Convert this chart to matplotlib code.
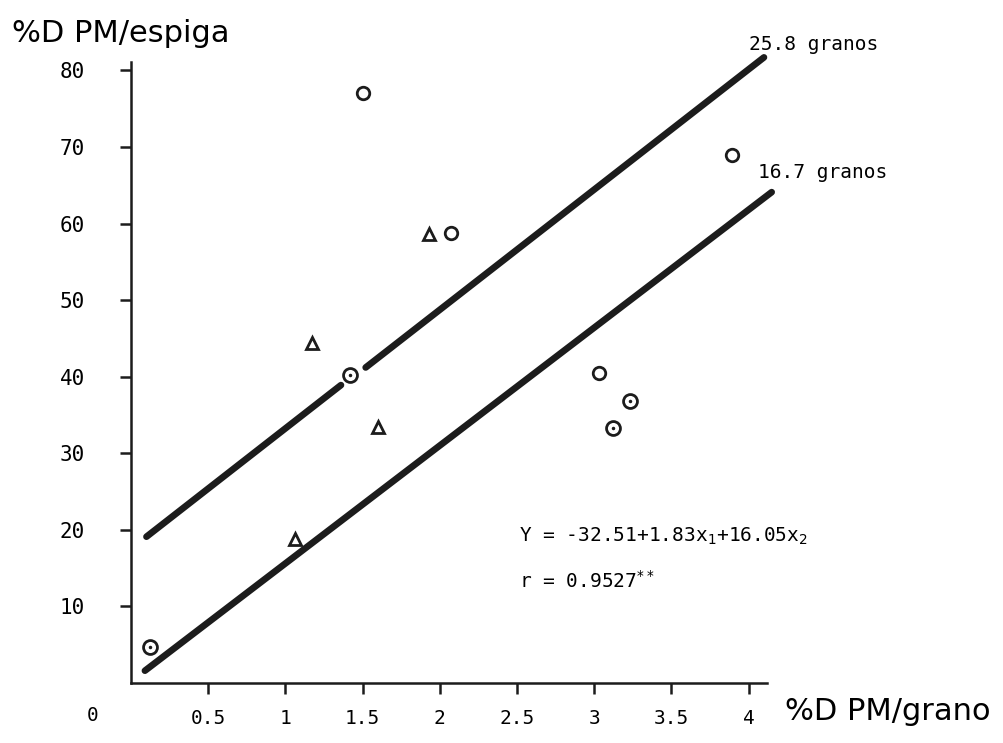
#% D PM/espiga frente a % D PM/grano

import matplotlib
matplotlib.use('Agg')
import matplotlib.pyplot as plt

# puntos
x_circulos = [1.50, 2.07, 3.89, 3.03]
y_circulos = [77.0, 58.7, 69.0, 40.5]

x_circ_punto = [0.12, 1.42, 3.23, 3.12]
y_circ_punto = [4.7, 40.2, 36.8, 33.3]

x_triangulos = [1.06, 1.17, 1.60, 1.93]
y_triangulos = [18.8, 44.4, 33.4, 58.6]

# rectas (extremos)
x_recta_258a = [0.10, 1.36]
y_recta_258a = [19.1, 38.9]
x_recta_258b = [1.52, 4.10]
y_recta_258b = [41.2, 81.7]
x_recta_167 = [0.09, 4.15]
y_recta_167 = [1.6, 64.1]

x_ticks = [0.5, 1, 1.5, 2, 2.5, 3, 3.5, 4]
x_etiquetas = ['0.5', '1', '1.5', '2', '2.5', '3', '3.5', '4']
y_ticks = [10, 20, 30, 40, 50, 60, 70, 80]
y_etiquetas = ['10', '20', '30', '40', '50', '60', '70', '80']

mono = 'DejaVu Sans Mono'
negro = '#1c1c1c'

fig = plt.figure(figsize=(10.04, 7.43), dpi=100)
ax = fig.add_axes([0.1305, 0.0808, 0.6335, 0.8358])

ax.plot(x_recta_258a, y_recta_258a, color=negro, lw=4.8, solid_capstyle='round', clip_on=False)
ax.plot(x_recta_258b, y_recta_258b, color=negro, lw=4.8, solid_capstyle='round', clip_on=False)
ax.plot(x_recta_167, y_recta_167, color=negro, lw=4.8, solid_capstyle='round', clip_on=False)

ax.plot(x_circulos, y_circulos, 'o', mfc='white', mec=negro, ms=9, mew=2, clip_on=False)
ax.plot(x_circ_punto, y_circ_punto, 'o', mfc='white', mec=negro, ms=10, mew=2, clip_on=False)
ax.plot(x_circ_punto, y_circ_punto, '.', color=negro, ms=3)
ax.plot(x_triangulos, y_triangulos, '^', mfc='white', mec=negro, ms=8, mew=2, clip_on=False)

ax.set_xlim(0, 4.12)
ax.set_ylim(0, 81.1)

ax.spines['top'].set_visible(False)
ax.spines['right'].set_visible(False)
for s in ['left', 'bottom']:
    ax.spines[s].set_linewidth(1.8)
    ax.spines[s].set_color(negro)

ax.set_xticks(x_ticks)
ax.set_xticklabels(x_etiquetas, family=mono, fontsize=14)
ax.set_yticks(y_ticks)
ax.set_yticklabels(y_etiquetas, family=mono, fontsize=15)
ax.tick_params(axis='x', direction='out', length=8, width=1.8, pad=11, color=negro)
ax.tick_params(axis='y', direction='out', length=8, width=1.8, pad=25, color=negro)

ax.text(-0.25, -4.3, '0', family=mono, fontsize=14, ha='center', va='center', clip_on=False)

ax.text(4.006, 83.4, '25.8 granos', family=mono, fontsize=14, ha='left', va='center', clip_on=False)
ax.text(4.06, 66.7, '16.7 granos', family=mono, fontsize=14, ha='left', va='center', clip_on=False)

ax.text(2.51, 19.1, 'Y = -32.51+1.83x$_1$+16.05x$_2$', family=mono, fontsize=14, ha='left', va='center')
ax.text(2.51, 13.4, 'r = 0.9527$^{**}$', family=mono, fontsize=14, ha='left', va='center')

fig.text(12 / 1004, 1 - 34 / 743, '%D PM/espiga', fontsize=22, ha='left', va='center')
fig.text(785 / 1004, 1 - 712 / 743, '%D PM/grano', fontsize=22, ha='left', va='center')

fig.savefig('out.png', dpi=100)
